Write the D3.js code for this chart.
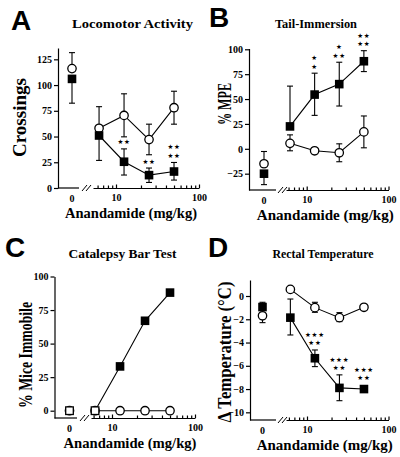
<!DOCTYPE html>
<html><head><meta charset="utf-8">
<script src="https://cdn.jsdelivr.net/npm/d3@7"></script>
<style>body{margin:0;background:#fff} svg{display:block}</style>
</head><body><svg id="c" width="400" height="457"></svg>
<script>
// Doses (mg/kg); the first entry of every series is the vehicle (0 mg/kg) group
const doses = [6.25, 12.5, 25, 50];
const xTickValues = [0, 10, 100];
const xTickLabels = ["0", "10", "100"];
const xLabel = "Anandamide (mg/kg)";

// A — Locomotor Activity
const locoOpen = [116, 58, 70.5, 47, 78];
const locoOpenHi = [131.5, 79, 91.5, 62, 94];
const locoOpenLo = [null, null, 49.7, 32.3, 62];
const locoFilled = [106, 51, 25.5, 12.5, 16];
const locoFilledHi = [null, null, 38, 19.4, 24.8];
const locoFilledLo = [82.4, 26.8, 12.6, 5.4, 7.7];
const locoStars = ["", "", "**", "**", "**|**"];
const locoTicks = [0, 25, 50, 75, 100, 125];

// B — Tail-Immersion
const tailOpen = [-15, 5.5, -2, -4, 17];
const tailOpenHi = [-2.7, 14, 0.5, 5, 33];
const tailOpenLo = [null, -2, -4.5, -13, 1];
const tailFilled = [-25, 22.5, 54.5, 65, 88];
const tailFilledHi = [null, 63, 76, 87, 98.6];
const tailFilledLo = [-36, null, 33.6, 43, 77.6];
const tailStars = ["", "", "*|*", "*|**", "**|**"];
const tailTicks = [-25, 0, 25, 50, 75, 100];

// C — Catalepsy Bar Test
const cataOpen = [0, 0, 0, 0, 0];
const cataFilled = [0, 0, 33, 67, 88];
const cataTicks = [0, 25, 50, 75, 100];

// D — Rectal Temperature
const tempOpen = [-1.7, 0.57, -1.0, -1.86, -0.97];
const tempOpenHi = [null, null, -0.54, -1.43, null];
const tempOpenLo = [-2.29, null, -1.4, -2.2, null];
const tempFilled = [-0.95, -1.86, -5.35, -7.9, -8.0];
const tempFilledHi = [-0.54, -0.26, -4.64, -6.78, null];
const tempFilledLo = [null, -3.35, -6.07, -9.0, null];
const tempStars = ["", "", "***|**", "***|**", "***|**"];
const tempTicks = [0, -2, -4, -6, -8, -10];

const SERIF = "'Liberation Serif','Times New Roman',serif";
const SANS = "'Liberation Sans',Arial,sans-serif";
const svg = d3.select("#c");

const panels = [
  { letter: "A", lx: 11, ly: 29.5, title: "Locomotor Activity", tx: 132.5, ty: 28, tl: 121,
    ylabel: "Crossings", ylx: 26, yly: 117.5, yll: 79,
    open: locoOpen, openHi: locoOpenHi, openLo: locoOpenLo,
    filled: locoFilled, filledHi: locoFilledHi, filledLo: locoFilledLo, stars: locoStars,
    ticks: locoTicks, yDomain: [0, 136], axisY: 188, yTop: 48, ax: 58,
    cx: 72, x10: 116, x100: 199, leftEnd: 79, breakX: 82, rightStart: 93,
    xlx: 131, xly: 217.5, xll: 132 },
  { letter: "B", lx: 209, ly: 27, title: "Tail-Immersion", tx: 316, ty: 28, tl: 82,
    ylabel: "% MPE", ylx: 231, yly: 104, yll: 42,
    open: tailOpen, openHi: tailOpenHi, openLo: tailOpenLo,
    filled: tailFilled, filledHi: tailFilledHi, filledLo: tailFilledLo, stars: tailStars,
    ticks: tailTicks, yDomain: [-41.4, 100.8], axisY: 190, yTop: 48.5, ax: 249,
    cx: 264, x10: 306.7, x100: 388.5, leftEnd: 276, breakX: 278, rightStart: 286,
    xlx: 325.3, xly: 220, xll: 137 },
  { letter: "C", lx: 5, ly: 257, title: "Catalepsy Bar Test", tx: 122.5, ty: 257.5, tl: 108,
    ylabel: "% Mice Immobile", ylx: 32, yly: 355, yll: 106,
    open: cataOpen, openHi: null, openLo: null,
    filled: cataFilled, filledHi: null, filledLo: null, stars: null, hollowZero: true,
    ticks: cataTicks, yDomain: [-5.44, 100], axisY: 418, yTop: 276.5, ax: 54.5,
    cx: 69.5, x10: 112, x100: 195, leftEnd: 77, breakX: 80, rightStart: 91,
    xlx: 130, xly: 448, xll: 133 },
  { letter: "D", lx: 208, ly: 257, title: "Rectal Temperature", tx: 323, ty: 258, tl: 101,
    ylabel: "\u0394 Temperature (\u00B0C)", ylx: 231, yly: 352, yll: 141,
    open: tempOpen, openHi: tempOpenHi, openLo: tempOpenLo,
    filled: tempFilled, filledHi: tempFilledHi, filledLo: tempFilledLo, stars: tempStars,
    ticks: tempTicks, yDomain: [-10.66, 1.376], axisY: 420, yTop: 280, ax: 250,
    cx: 262.5, x10: 307, x100: 388.5, leftEnd: 276, breakX: 278, rightStart: 286,
    xlx: 324.7, xly: 450, xll: 136 }
];

function drawPanel(p) {
  const g = svg.append("g");
  const y = d3.scaleLinear().domain(p.yDomain).range([p.axisY, p.yTop]);
  const xl = d3.scaleLog().domain([10, 100]).range([p.x10, p.x100]);
  const xs = xl.copy().domain([xl.invert(p.rightStart), 100]).range([p.rightStart, p.x100]);
  const xpos = i => i === 0 ? p.cx : xl(doses[i - 1]);

  // letter + title
  g.append("text").attr("x", p.lx).attr("y", p.ly).text(p.letter)
    .attr("font-family", SANS).attr("font-weight", "bold").attr("font-size", 28);
  g.append("text").attr("x", p.tx).attr("y", p.ty).text(p.title)
    .attr("text-anchor", "middle").attr("font-family", SERIF).attr("font-weight", "bold")
    .attr("font-size", 13).attr("textLength", p.tl).attr("lengthAdjust", "spacingAndGlyphs");

  // y axis
  const ya = g.append("g").attr("transform", `translate(${p.ax},0)`)
    .call(d3.axisLeft(y).tickValues(p.ticks).tickSize(4).tickSizeOuter(0).tickPadding(2));
  ya.selectAll("path,line").attr("stroke", "#000").attr("stroke-width", 1.2);
  ya.selectAll("text").attr("font-family", SERIF).attr("font-weight", "bold").attr("font-size", 10);

  // x axis: left (vehicle) segment, break, log segment
  g.append("line").attr("x1", p.ax).attr("x2", p.leftEnd).attr("y1", p.axisY).attr("y2", p.axisY)
    .attr("stroke", "#000").attr("stroke-width", 1.2);
  [0, 4].forEach(d => g.append("line")
    .attr("x1", p.breakX + d).attr("y1", p.axisY + 3).attr("x2", p.breakX + d + 5).attr("y2", p.axisY - 3)
    .attr("stroke", "#000").attr("stroke-width", 1));
  const minor = [6, 7, 8, 9, 20, 30, 40, 50, 60, 70, 80, 90].filter(v => v >= xs.domain()[0]);
  const xa = g.append("g").attr("transform", `translate(0,${p.axisY})`)
    .call(d3.axisBottom(xs).tickValues([10, 100].concat(minor)).tickSize(-2.5).tickSizeOuter(0)
      .tickPadding(6).tickFormat(v => { const k = xTickValues.indexOf(v); return k >= 0 ? xTickLabels[k] : ""; }));
  xa.selectAll("path,line").attr("stroke", "#000").attr("stroke-width", 1.2);
  xa.selectAll("text").attr("font-family", SERIF).attr("font-weight", "bold").attr("font-size", 10);
  xa.selectAll(".tick").filter(v => v === 10 || v === 100).select("line").attr("y2", -3.5);
  g.append("text").attr("x", p.cx).attr("y", p.axisY + 14).text(xTickLabels[0])
    .attr("text-anchor", "middle").attr("font-family", SERIF).attr("font-weight", "bold").attr("font-size", 10);

  // axis titles
  g.append("text").attr("transform", `translate(${p.ylx},${p.yly}) rotate(-90)`).text(p.ylabel)
    .attr("text-anchor", "middle").attr("font-family", SERIF).attr("font-weight", "bold").attr("font-size", 18)
    .attr("textLength", p.yll).attr("lengthAdjust", "spacingAndGlyphs");
  g.append("text").attr("x", p.xlx).attr("y", p.xly).text(xLabel)
    .attr("text-anchor", "middle").attr("font-family", SERIF).attr("font-weight", "bold").attr("font-size", 14.5)
    .attr("textLength", p.xll).attr("lengthAdjust", "spacingAndGlyphs");

  // connecting lines (dose groups only)
  const line = d3.line().x(d => xpos(d.i)).y(d => y(d.v));
  [p.open, p.filled].forEach(s => {
    const pts = s.map((v, i) => ({ v, i })).filter(d => d.i > 0);
    g.append("path").attr("d", line(pts)).attr("fill", "none").attr("stroke", "#000").attr("stroke-width", 1.1);
  });

  // error bars
  function bars(vals, hi, lo) {
    if (!hi) return;
    vals.forEach((v, i) => {
      const top = hi[i] == null ? v : hi[i], bot = lo[i] == null ? v : lo[i];
      const x = xpos(i);
      g.append("line").attr("x1", x).attr("x2", x).attr("y1", y(top)).attr("y2", y(bot))
        .attr("stroke", "#000").attr("stroke-width", 1.1);
      [hi[i], lo[i]].forEach(e => { if (e != null) g.append("line").attr("x1", x - 3).attr("x2", x + 3)
        .attr("y1", y(e)).attr("y2", y(e)).attr("stroke", "#000").attr("stroke-width", 1.1); });
    });
  }
  bars(p.open, p.openHi, p.openLo);
  bars(p.filled, p.filledHi, p.filledLo);

  // markers
  p.open.forEach((v, i) => g.append("circle").attr("cx", xpos(i)).attr("cy", y(v)).attr("r", 4.2)
    .attr("fill", "#fff").attr("stroke", "#000").attr("stroke-width", 1.3));
  p.filled.forEach((v, i) => {
    const hollow = p.hollowZero && v === 0;
    const s = hollow ? 7.6 : 8.6;
    g.append("rect").attr("x", xpos(i) - s / 2).attr("y", y(v) - s / 2).attr("width", s).attr("height", s)
      .attr("fill", hollow ? "#fff" : "#000").attr("stroke", "#000").attr("stroke-width", hollow ? 1.3 : 0);
  });

  // significance stars
  if (p.stars) p.stars.forEach((s, i) => {
    if (!s) return;
    const top = p.filledHi[i] == null ? y(p.filled[i]) - 4.5 : y(p.filledHi[i]);
    const rows = s.split("|").reverse();
    rows.forEach((r, k) => g.append("text").attr("x", xpos(i)).attr("y", top - 6.5 - k * 8.5)
      .text(r.replace(/\*/g, "\u2605")).attr("text-anchor", "middle").attr("dominant-baseline", "central")
      .attr("font-family", "'DejaVu Sans',sans-serif").attr("font-size", 6.5).attr("letter-spacing", 0.8));
  });
}
panels.forEach(drawPanel);
</script></body></html>
